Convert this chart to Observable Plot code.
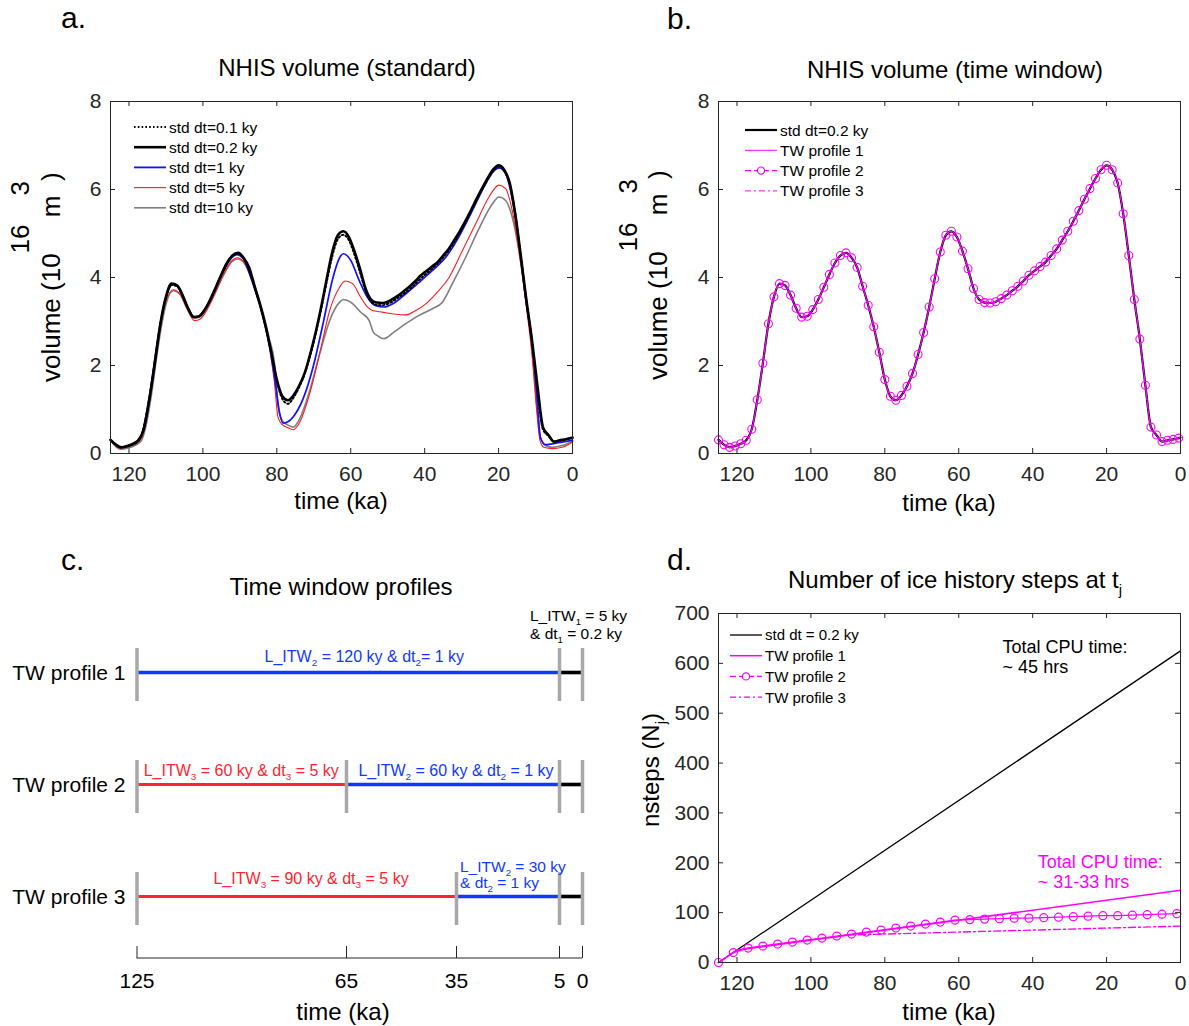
<!DOCTYPE html>
<html><head><meta charset="utf-8">
<script src="https://cdn.jsdelivr.net/npm/d3@7"></script>
<script src="https://cdn.jsdelivr.net/npm/@observablehq/plot@0.6"></script>
<style>
body{margin:0;background:#fff;}
#root{position:relative;width:1189px;height:1026px;overflow:hidden;background:#fff;}
.panel{position:absolute;}
.panel svg{overflow:visible;}
text{white-space:pre;}
</style></head><body><div id="root"></div>
<script>
// ---------------- DATA ----------------
const volTicksX = [120, 100, 80, 60, 40, 20, 0];
const volTicksY = [0, 2, 4, 6, 8];
const stepTicksY = [0, 100, 200, 300, 400, 500, 600, 700];
const windowTicks = [125, 65, 35, 5, 0];

// std dt=0.2 ky (also the TW profiles in panel b, which coincide with it)
const gridTime = [125,123.5,122,120.5,119,117.5,116,114.5,113,111.5,110,108.5,107,105.5,104,102.5,101,99.5,98,96.5,95,93.5,92,90.5,89,87.5,86,84.5,83,81.5,80,78.5,77,75.5,74,72.5,71,69.5,68,66.5,65,63.5,62,60.5,59,57.5,56,54.5,53,51.5,50,48.5,47,45.5,44,42.5,41,39.5,38,36.5,35,33.5,32,30.5,29,27.5,26,24.5,23,21.5,20,18.5,17,15.5,14,12.5,11,9.5,8,6.5,5,3.5,2,0.5,0];
const std02 = [0.31,0.2,0.14,0.17,0.22,0.3,0.55,1.22,2.05,2.95,3.56,3.86,3.82,3.6,3.3,3.1,3.12,3.27,3.5,3.78,4.07,4.33,4.5,4.56,4.45,4.23,3.8,3.37,2.88,2.3,1.68,1.3,1.21,1.32,1.53,1.82,2.25,2.75,3.33,3.97,4.58,4.96,5.05,4.92,4.6,4.2,3.75,3.5,3.43,3.42,3.45,3.52,3.6,3.7,3.8,3.92,4.05,4.15,4.25,4.35,4.5,4.65,4.85,5.05,5.28,5.52,5.78,6.02,6.25,6.45,6.55,6.45,6.15,5.45,4.5,3.5,2.6,1.55,0.6,0.42,0.27,0.3,0.32,0.35,0.36];

const std01Time = [125,122,118,116.6,115,113,111.5,110,108.5,107,105.5,104,102.5,101,98,95,92,90.5,89,86,83,81.5,80,78.5,77,75.5,74,72.5,71,68,66.5,65,63.5,62,60.5,59,57.5,56,54.5,53,51.5,50,47,44,41,38,35,32,29,26,23,21.5,20,18.5,17,15.5,14,12.5,11,9.5,8,6.5,5,2,0];
const std01 = [0.31,0.14,0.24,0.42,1.0,2.1,2.95,3.55,3.83,3.8,3.58,3.3,3.1,3.12,3.5,4.06,4.5,4.55,4.44,3.78,2.88,2.3,1.66,1.24,1.13,1.27,1.5,1.8,2.22,3.28,3.9,4.48,4.87,4.97,4.85,4.52,4.12,3.7,3.45,3.38,3.37,3.4,3.55,3.74,3.98,4.2,4.45,4.8,5.25,5.75,6.22,6.42,6.52,6.43,6.13,5.45,4.5,3.5,2.55,1.45,0.55,0.4,0.27,0.32,0.35];

const std1Time = [125,122.4,118,116.6,115.2,113.9,112.5,111.2,109.8,108,106.2,104.4,102.2,100.8,99,97.2,94.5,92.3,90.7,89.1,86.4,83.7,82,80.6,79.2,78.3,77,75.6,72.9,70.2,67.5,64.8,63.2,62,60,57.7,55.5,53.2,51,48.3,45.1,41.5,37.9,34.3,30.7,27.1,23.5,21.3,19.9,18.1,16.3,14.5,12.7,10.9,9.6,8.7,7.3,5.5,2.8,0];
const std1 = [0.31,0.14,0.26,0.42,0.95,1.62,2.45,3.1,3.6,3.86,3.72,3.35,3.1,3.14,3.33,3.62,4.14,4.44,4.52,4.43,3.84,3.1,2.45,1.73,0.9,0.69,0.72,0.83,1.24,1.96,2.95,4.0,4.42,4.54,4.39,3.93,3.55,3.36,3.33,3.42,3.63,3.89,4.16,4.46,4.93,5.52,6.13,6.42,6.49,6.36,5.79,4.8,3.55,2.49,1.28,0.37,0.2,0.22,0.26,0.3];

const std5Time = [125,122.4,118,116.6,115.2,113.9,112.5,111.2,109.8,108,106.2,104.4,102.2,100.8,99,97.2,94.5,92.3,90.7,89.1,86.4,83.7,82,80.6,79.7,78.6,76.8,75.6,73.8,71.1,68.4,65.7,63,61.5,59.5,57.3,55.5,54.1,52,50.5,48.3,45.1,42.4,39.7,37,33.4,29.8,26.2,22.6,19.9,18.1,16.3,14.5,12.7,10.9,9.7,8.8,7.7,5.5,2.8,0];
const std5 = [0.3,0.12,0.23,0.35,0.8,1.45,2.3,3.0,3.5,3.72,3.62,3.3,3.02,3.05,3.25,3.55,4.05,4.37,4.45,4.37,3.85,3.1,2.4,1.58,0.83,0.66,0.58,0.54,0.71,1.36,2.27,3.25,3.78,3.92,3.86,3.55,3.33,3.25,3.22,3.2,3.17,3.15,3.25,3.4,3.63,4.0,4.61,5.22,5.83,6.1,6.02,5.52,4.61,3.48,2.19,0.98,0.3,0.14,0.11,0.14,0.26];

const std10Time = [125,122.4,118,116.6,115.2,113.9,112.5,111.2,109.8,108,106.2,104.4,102.2,100.8,99,97.2,94.5,92.3,90.7,89.1,86.4,83.7,82,80.6,79.7,78.6,76.8,75.6,73.8,71.1,68.4,65.7,63,62,60,57.3,55,53.9,52.8,51,48.3,45.1,41.5,37.9,35.2,32.5,28.9,25.3,21.7,19.9,18.1,16.3,14.5,12.7,10.9,9.6,8.7,7.3,5.5,2.8,0];
const std10 = [0.3,0.1,0.2,0.3,0.7,1.35,2.2,2.9,3.45,3.7,3.62,3.33,3.08,3.1,3.28,3.56,4.04,4.35,4.42,4.36,3.9,3.2,2.6,2.04,1.13,0.75,0.64,0.6,0.79,1.43,2.27,3.02,3.44,3.5,3.44,3.21,3.02,2.76,2.68,2.61,2.76,2.95,3.14,3.29,3.44,3.86,4.46,5.11,5.67,5.83,5.75,5.37,4.61,3.55,2.34,1.05,0.37,0.18,0.14,0.18,0.28];

// panel c: time windows
const profiles = ["TW profile 1", "TW profile 2", "TW profile 3"];
const segProfile = ["TW profile 1","TW profile 1","TW profile 2","TW profile 2","TW profile 2","TW profile 3","TW profile 3","TW profile 3"];
const segFrom = [125, 5, 125, 65, 5, 125, 35, 5];
const segTo   = [5, 0, 65, 5, 0, 35, 5, 0];
const segWindow = ["ITW2","ITW1","ITW3","ITW2","ITW1","ITW3","ITW2","ITW1"];

// panel d: number of ice history steps
const nStdTime = [125, 0];
const nStd = [0, 625];
const nTW1Time = [125, 120, 0];
const nTW1 = [0, 25, 145];
const nTW2Time = [125,121,117,113,109,105,101,97,93,89,85,81,77,73,69,65,61,57,53,49,45,41,37,33,29,25,21,17,13,9,5,1];
const nTW2 = [0,20,29,33,37,41,45,49,53,57,61,65,69,73,77,81,85,86,87,88,89,89,90,91,92,93,94,94,95,96,97,98];
const nTW3Time = [125, 120, 90, 0];
const nTW3 = [0, 25, 55, 73];

const legendA = ["std dt=0.1 ky", "std dt=0.2 ky", "std dt=1 ky", "std dt=5 ky", "std dt=10 ky"];
const legendB = ["std dt=0.2 ky", "TW profile 1", "TW profile 2", "TW profile 3"];
const legendD = ["std dt = 0.2 ky", "TW profile 1", "TW profile 2", "TW profile 3"];

// ---------------- HELPERS ----------------
const FONT = '"Liberation Sans", Arial, Helvetica, sans-serif';
const AX = "#262626";
const BLUE = "#1010ff", RED = "#ff1a1a", GRAY = "#7f7f7f", MAG = "#ff00ff";
const CBLUE = "#1238ff", CRED = "#ff2430";
const rows = (ts, vs) => d3.sort(ts.map((t, i) => ({t, v: vs[i]})), d => d.t);
const root = document.getElementById("root");

function place(svg, left, top) {
  const div = document.createElement("div");
  div.className = "panel";
  div.style.left = left + "px"; div.style.top = top + "px";
  div.appendChild(svg); root.appendChild(div);
  return svg;
}
function boxTicks(xt, yt, fw, fh, len = 5) {
  return [
    Plot.tickX(xt, {x: d => d, insetTop: fh - len, stroke: AX}),
    Plot.tickX(xt, {x: d => d, insetBottom: fh - len, stroke: AX}),
    Plot.tickY(yt, {y: d => d, insetRight: fw - len, stroke: AX}),
    Plot.tickY(yt, {y: d => d, insetLeft: fw - len, stroke: AX})
  ];
}
// parts: string or [text, "sub"|"sup", offset]
function rich(svg, x, y, parts, {size = 16, fill = "#000", anchor = "start", rotate = 0} = {}) {
  const t = d3.select(svg).append("text")
    .attr("transform", `translate(${x},${y})` + (rotate ? ` rotate(${rotate})` : ""))
    .attr("font-size", size).attr("fill", fill).attr("text-anchor", anchor)
    .attr("font-family", FONT);
  let shift = 0;
  for (const p of parts) {
    const [s, kind, off] = typeof p === "string" ? [p] : p;
    const target = kind === "sub" ? size * 0.28 : kind === "sup" ? -(off ?? size * 0.4) : 0;
    const ts = t.append("tspan").attr("dy", target - shift).text(s);
    if (kind === "sub") ts.attr("font-size", size * 0.62);
    shift = target;
  }
  return t;
}
function legend(svg, x0, y0, dy, labels, styles, size) {
  const g = d3.select(svg).append("g").attr("text-anchor", "start");
  labels.forEach((lab, i) => {
    const s = styles[i], y = y0 + i * dy;
    g.append("line").attr("x1", x0).attr("x2", x0 + 32).attr("y1", y).attr("y2", y)
      .attr("stroke", s.stroke).attr("stroke-width", s.w).attr("stroke-dasharray", s.dash || null);
    if (s.circle) g.append("circle").attr("cx", x0 + 16).attr("cy", y).attr("r", 3.6)
      .attr("fill", "#fff").attr("stroke", s.stroke).attr("stroke-width", 1.2);
    g.append("text").attr("x", x0 + 35).attr("y", y).attr("dy", "0.36em").attr("text-anchor", "start")
      .attr("font-size", size).attr("font-family", FONT).attr("fill", "#000").text(lab);
  });
}
const baseStyle = {fontFamily: FONT, fontSize: "21px", color: AX, background: "transparent", overflow: "visible"};

// ---------------- PANEL A ----------------
{
  const W = 600, H = 520, mL = 110, mR = 28, mT = 101, mB = 67;
  const svg = Plot.plot({
    width: W, height: H, marginLeft: mL, marginRight: mR, marginTop: mT, marginBottom: mB,
    style: baseStyle,
    x: {domain: [125, 0]}, y: {domain: [0, 8]},
    marks: [
      Plot.axisX({ticks: volTicksX, tickSize: 0, tickPadding: 13, label: null, fontSize: 21, fill: AX}),
      Plot.axisY({ticks: volTicksY, tickSize: 0, tickPadding: 9, label: null, fontSize: 21, fill: AX}),
      ...boxTicks(volTicksX, volTicksY, W - mL - mR, H - mT - mB),
      Plot.line(rows(std10Time, std10), {x: "t", y: "v", stroke: GRAY, strokeWidth: 1.6, curve: "monotone-x"}),
      Plot.line(rows(std5Time, std5), {x: "t", y: "v", stroke: RED, strokeWidth: 1.1, curve: "monotone-x"}),
      Plot.line(rows(std1Time, std1), {x: "t", y: "v", stroke: BLUE, strokeWidth: 1.7, curve: "monotone-x"}),
      Plot.line(rows(gridTime, std02), {x: "t", y: "v", stroke: "#000", strokeWidth: 2.6, curve: "monotone-x"}),
      Plot.line(rows(std01Time, std01), {x: "t", y: "v", stroke: "#000", strokeWidth: 2, strokeDasharray: "1.6,2.4", curve: "monotone-x"}),
      Plot.frame({stroke: AX})
    ]
  });
  place(svg, 0, 0);
  rich(svg, 61, 28, ["a."], {size: 30});
  rich(svg, 347, 76, ["NHIS volume (standard)"], {size: 24, anchor: "middle"});
  rich(svg, 341, 509, ["time (ka)"], {size: 24, anchor: "middle"});
  rich(svg, 60, 382, ["volume (10", ["16", "sup", 31], " m", ["3", "sup", 31], ")"], {size: 26, rotate: -90});
  legend(svg, 134, 127, 20.2, legendA, [
    {stroke: "#000", w: 2, dash: "1.6,2.2"}, {stroke: "#000", w: 2.6}, {stroke: BLUE, w: 1.8},
    {stroke: RED, w: 1.1}, {stroke: GRAY, w: 1.6}], 15.5);
}

// ---------------- PANEL B ----------------
{
  const W = 589, H = 520, mL = 118, mR = 9, mT = 101, mB = 67;
  const base = rows(gridTime, std02);
  const circles = base.filter(d => d.t > 0);
  const svg = Plot.plot({
    width: W, height: H, marginLeft: mL, marginRight: mR, marginTop: mT, marginBottom: mB,
    style: baseStyle,
    x: {domain: [125, 0]}, y: {domain: [0, 8]},
    marks: [
      Plot.axisX({ticks: volTicksX, tickSize: 0, tickPadding: 13, label: null, fontSize: 21, fill: AX}),
      Plot.axisY({ticks: volTicksY, tickSize: 0, tickPadding: 9, label: null, fontSize: 21, fill: AX}),
      ...boxTicks(volTicksX, volTicksY, W - mL - mR, H - mT - mB),
      Plot.line(base, {x: "t", y: "v", stroke: "#000", strokeWidth: 2.2, curve: "monotone-x"}),
      Plot.line(base, {x: "t", y: "v", stroke: MAG, strokeWidth: 1, curve: "monotone-x"}),
      Plot.line(base, {x: "t", y: "v", stroke: MAG, strokeWidth: 1, strokeDasharray: "6,3,2,3", curve: "monotone-x"}),
      Plot.dot(circles, {x: "t", y: "v", r: 4, stroke: MAG, strokeWidth: 1.1, fill: "none"}),
      Plot.frame({stroke: AX})
    ]
  });
  place(svg, 600, 0);
  rich(svg, 67, 29, ["b."], {size: 30});
  rich(svg, 355, 78, ["NHIS volume (time window)"], {size: 24, anchor: "middle"});
  rich(svg, 349, 511, ["time (ka)"], {size: 24, anchor: "middle"});
  rich(svg, 67, 380, ["volume (10", ["16", "sup", 30], " m", ["3", "sup", 30], ")"], {size: 26, rotate: -90});
  legend(svg, 145, 130, 20.3, legendB, [
    {stroke: "#000", w: 2.2}, {stroke: MAG, w: 1}, {stroke: MAG, w: 1.3, dash: "6,3", circle: true},
    {stroke: MAG, w: 1, dash: "6,3,2,3"}], 15.5);
}

// ---------------- PANEL C ----------------
{
  const W = 650, H = 486, mL = 137, mR = 69, mT = 20, mB = 68;
  const segs = segFrom.map((f, i) => ({profile: segProfile[i], from: f, to: segTo[i], window: segWindow[i]}));
  const bounds = [];
  for (const s of segs) for (const t of [s.from, s.to])
    if (!bounds.some(b => b.profile === s.profile && b.t === t)) bounds.push({profile: s.profile, t});
  const fh = H - mT - mB;
  const svg = Plot.plot({
    width: W, height: H, marginLeft: mL, marginRight: mR, marginTop: mT, marginBottom: mB,
    style: baseStyle,
    x: {type: "linear", domain: [125, 65, 35, 5, 0], range: [136.5, 346, 456, 559, 582]},
    y: {type: "band", domain: profiles, range: [77.25, 414.75], paddingInner: 0.529, paddingOuter: 0.2645},
    color: {domain: ["ITW1", "ITW2", "ITW3"], range: ["#000", CBLUE, CRED]},
    marks: [
      Plot.axisY({tickSize: 0, tickPadding: 12, label: null, fontSize: 21, fill: "#000", dy: -2}),
      Plot.axisX({ticks: windowTicks, tickSize: 0, tickPadding: 15, label: null, fontSize: 21, fill: "#000"}),
      Plot.tickX(windowTicks, {x: d => d, insetTop: fh - 12, stroke: AX}),
      Plot.ruleY(segs.filter(d => d.window === "ITW3"), {y: "profile", x1: "from", x2: "to", stroke: "window", strokeWidth: 2.8, dy: -2.5}),
      Plot.ruleY(segs.filter(d => d.window !== "ITW3"), {y: "profile", x1: "from", x2: "to", stroke: "window", strokeWidth: 3.6, dy: -2.5}),
      Plot.tickX(bounds, {x: "t", y: "profile", stroke: "#a8a8a8", strokeWidth: 3.5})
    ]
  });
  place(svg, 0, 540);
  const xs = svg.scale("x"), ys = svg.scale("y");
  const ly = p => ys.apply(p) + ys.bandwidth / 2 - 2.5;
  const X = v => xs.apply(v);
  const fs = 16;
  rich(svg, 61, 30, ["c."], {size: 30});
  rich(svg, 341, 55, ["Time window profiles"], {size: 24, anchor: "middle"});
  rich(svg, 343, 480, ["time (ka)"], {size: 24, anchor: "middle"});
  // the axis line
  d3.select(svg).append("line").attr("x1", X(125)).attr("x2", X(0)).attr("y1", H - mB).attr("y2", H - mB).attr("stroke", AX);
  rich(svg, X(60), ly(profiles[0]) - 10, ["L_ITW", ["2", "sub"], " = 120 ky & dt", ["2", "sub"], "= 1 ky"], {size: fs, fill: CBLUE, anchor: "middle"});
  rich(svg, X(5) - 29, ly(profiles[0]) - 51, ["L_ITW", ["1", "sub"], " = 5 ky"], {size: 15.5, fill: "#000"});
  rich(svg, X(5) - 29, ly(profiles[0]) - 33, ["& dt", ["1", "sub"], " = 0.2 ky"], {size: 15.5, fill: "#000"});
  rich(svg, X(95), ly(profiles[1]) - 8, ["L_ITW", ["3", "sub"], " = 60 ky & dt", ["3", "sub"], " = 5 ky"], {size: fs, fill: CRED, anchor: "middle"});
  rich(svg, X(35), ly(profiles[1]) - 8, ["L_ITW", ["2", "sub"], " = 60 ky & dt", ["2", "sub"], " = 1 ky"], {size: fs, fill: CBLUE, anchor: "middle"});
  rich(svg, X(75), ly(profiles[2]) - 12, ["L_ITW", ["3", "sub"], " = 90 ky & dt", ["3", "sub"], " = 5 ky"], {size: fs, fill: CRED, anchor: "middle"});
  rich(svg, X(35) + 4, ly(profiles[2]) - 24, ["L_ITW", ["2", "sub"], " = 30 ky"], {size: 15.5, fill: CBLUE});
  rich(svg, X(35) + 4, ly(profiles[2]) - 8, ["& dt", ["2", "sub"], " = 1 ky"], {size: 15.5, fill: CBLUE});
}

// ---------------- PANEL D ----------------
{
  const W = 589, H = 486, mL = 118, mR = 9, mT = 73, mB = 64;
  const svg = Plot.plot({
    width: W, height: H, marginLeft: mL, marginRight: mR, marginTop: mT, marginBottom: mB,
    style: baseStyle,
    x: {domain: [125, 0]}, y: {domain: [0, 700]},
    marks: [
      Plot.axisX({ticks: volTicksX, tickSize: 0, tickPadding: 13, label: null, fontSize: 21, fill: AX}),
      Plot.axisY({ticks: stepTicksY, tickSize: 0, tickPadding: 9, label: null, fontSize: 21, fill: AX}),
      ...boxTicks(volTicksX, stepTicksY, W - mL - mR, H - mT - mB),
      Plot.line(rows(nStdTime, nStd), {x: "t", y: "v", stroke: "#000", strokeWidth: 1.3}),
      Plot.line(rows(nTW1Time, nTW1), {x: "t", y: "v", stroke: MAG, strokeWidth: 1.5}),
      Plot.line(rows(nTW3Time, nTW3), {x: "t", y: "v", stroke: MAG, strokeWidth: 1.4, strokeDasharray: "7,3,2,3"}),
      Plot.line(rows(nTW2Time, nTW2), {x: "t", y: "v", stroke: MAG, strokeWidth: 1.4}),
      Plot.dot(rows(nTW2Time, nTW2), {x: "t", y: "v", r: 4, stroke: MAG, strokeWidth: 1.2, fill: "none"}),
      Plot.frame({stroke: AX})
    ]
  });
  place(svg, 600, 540);
  const xs = svg.scale("x"), ys = svg.scale("y");
  rich(svg, 67, 30, ["d."], {size: 30});
  rich(svg, 355, 48, ["Number of ice history steps at t", ["j", "sub"]], {size: 24, anchor: "middle"});
  rich(svg, 349, 480, ["time (ka)"], {size: 24, anchor: "middle"});
  rich(svg, 59, 287, ["nsteps (N", ["j", "sub"], ")"], {size: 24, rotate: -90});
  rich(svg, xs.apply(48), ys.apply(620), ["Total CPU time:"], {size: 18});
  rich(svg, xs.apply(48), ys.apply(620) + 20, ["~ 45 hrs"], {size: 18});
  rich(svg, xs.apply(38.5), ys.apply(188), ["Total CPU time:"], {size: 18, fill: MAG});
  rich(svg, xs.apply(38.5), ys.apply(188) + 20, ["~ 31-33 hrs"], {size: 18, fill: MAG});
  legend(svg, 130, 95, 20.7, legendD, [
    {stroke: "#000", w: 1.3}, {stroke: MAG, w: 1.5}, {stroke: MAG, w: 1.4, dash: "6,3", circle: true},
    {stroke: MAG, w: 1.2, dash: "6,3,2,3"}], 15);
}
</script></body></html>
